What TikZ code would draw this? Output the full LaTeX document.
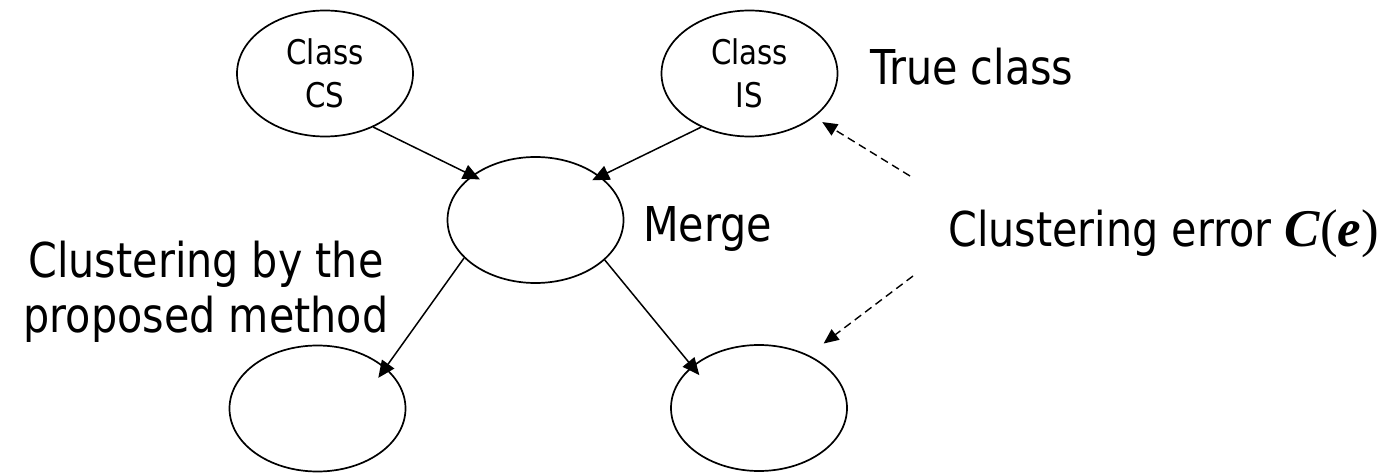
\documentclass[tikz,border=0pt]{standalone}
\usepackage{fontspec}
\setmainfont[FakeStretch=0.86]{DejaVu Sans}
\newfontfamily\tms{Liberation Serif}
\usetikzlibrary{shapes.geometric,arrows.meta}
\begin{document}
\begin{tikzpicture}[x=1pt,y=-1pt,
  oval/.style={draw,ellipse,line width=1.7pt,minimum width=176pt,minimum height=126pt,inner sep=0pt,
    font=\fontsize{34}{43}\selectfont,align=center},
  lbl/.style={font=\fontsize{48}{55}\selectfont,inner sep=0pt,anchor=base west},
  conn/.style={line width=1.5pt,-{Triangle[length=17pt,width=15pt]}},
  dconn/.style={line width=1.4pt,dash pattern=on 8pt off 5pt,-{Triangle[length=15pt,width=13pt]}}]
\useasboundingbox (0,0) rectangle (1395,473);
\node[oval] (cs) at (325,73.5) {Class\\CS};
\node[oval] (is) at (749.5,73.5) {Class\\IS};
\node[oval] (merge) at (535.5,220) {};
\node[oval] (bl) at (317.5,408.5) {};
\node[oval] (br) at (759,408) {};
\node[lbl] (tc) at (870,85) {True class};
\node[lbl] (mg) at (643,242) {Merge};
\node[lbl] (ce) at (948,247) {Clustering error {\fontsize{53}{55}\selectfont{\tms\bfseries\itshape C}{\tms(}{\tms\bfseries\itshape e}{\tms)}}};
\node[font=\fontsize{48}{55}\selectfont,inner sep=0pt,align=center,anchor=base] (cb) at (206,332) {Clustering by the\\proposed method};
\coordinate (e1) at (910,176);
\coordinate (e2) at (913,276);
\draw[conn,shorten >=-9pt] (cs.-48) -- (merge.145.5);
\draw[conn,shorten >=-9pt] (is.228) -- (merge.34.5);
\draw[conn,shorten >=-12.7pt] (merge.208.8) -- (bl.31.9);
\draw[conn,shorten >=-11.6pt] (merge.330.3) -- (br.148.9);
\draw[dconn,shorten >=9.3pt] (e1) -- (is.326);
\draw[dconn,shorten >=19pt] (e2) -- (br.47.8);
\end{tikzpicture}
\end{document}
